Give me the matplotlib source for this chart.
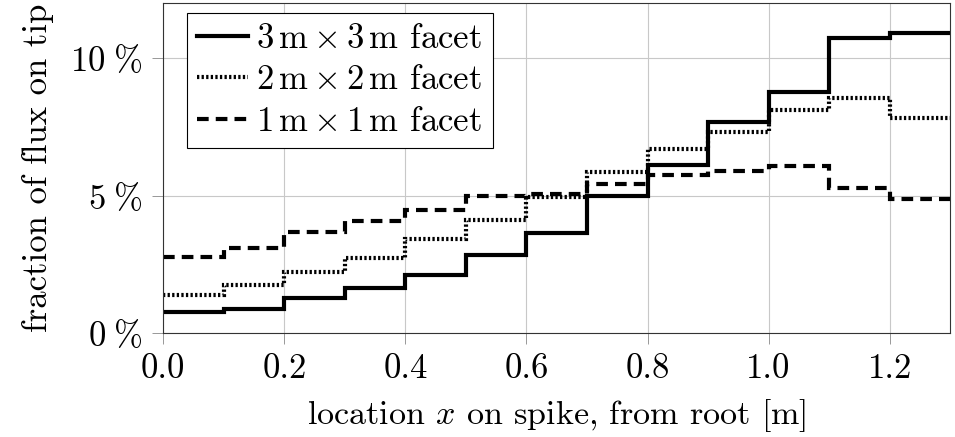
import numpy as np
from matplotlib import pyplot as plt

# bin edges along the spike [m]
edges = np.round(np.arange(0, 1.31, 0.1), 2)

# fraction of flux on tip per bin [%]
facet_3m = [0.75, 0.89, 1.28, 1.64, 2.10, 2.83, 3.62, 5.00, 6.11, 7.68, 8.77, 10.74, 10.91]
facet_2m = [1.40, 1.76, 2.22, 2.71, 3.41, 4.11, 4.94, 5.84, 6.71, 7.32, 8.10, 8.53, 7.81]
facet_1m = [2.77, 3.10, 3.67, 4.07, 4.48, 5.00, 5.05, 5.42, 5.76, 5.88, 6.06, 5.26, 4.88]

labels = [r'$3\,\mathrm{m}\times 3\,\mathrm{m}$ facet',
          r'$2\,\mathrm{m}\times 2\,\mathrm{m}$ facet',
          r'$1\,\mathrm{m}\times 1\,\mathrm{m}$ facet']

xticks = [0.0, 0.2, 0.4, 0.6, 0.8, 1.0, 1.2]
yticks = [0, 5, 10]

plt.rcParams.update({
    'font.family': 'serif',
    'font.serif': ['cmr10', 'DejaVu Serif'],
    'mathtext.fontset': 'cm',
    'axes.formatter.use_mathtext': True,
    'font.size': 25,
})

fig = plt.figure(figsize=(9.55, 4.37), dpi=100)
ax = fig.add_axes([0.171, 0.238, 0.824, 0.755])

ax.stairs(facet_3m, edges, baseline=None, color='black', lw=3, label=labels[0])
ax.stairs(facet_2m, edges, baseline=None, color='black', lw=3, linestyle=(0, (0.55, 0.55)), label=labels[1])
ax.stairs(facet_1m, edges, baseline=None, color='black', lw=3, linestyle=(0, (2.8, 1.7)), label=labels[2])

ax.set_xlim(0, 1.3)
ax.set_ylim(0, 12)
ax.set_xticks(xticks)
ax.set_xticklabels([f'{t:.1f}' for t in xticks])
ax.set_yticks(yticks)
ax.set_yticklabels([rf'${t}\;\%$' for t in yticks])
ax.grid(True, color='#c8c8c8', lw=0.8)
ax.set_axisbelow(True)
ax.tick_params(direction='out', length=8, width=0.6, color='#888888', pad=7)
for s in ax.spines.values():
    s.set_linewidth(0.8)
    s.set_color('#333333')

ax.set_xlabel(r'location $x$ on spike, from root [m]', labelpad=8, fontsize=24.5)
ax.set_ylabel('fraction of flux on tip', labelpad=12)

leg = ax.legend(loc='upper left', bbox_to_anchor=(0.03, 0.97), borderaxespad=0,
                fancybox=False, edgecolor='black', framealpha=1, handlelength=1.45,
                handletextpad=0.25, borderpad=0.3, labelspacing=0.28, fontsize=25)
leg.get_frame().set_linewidth(0.8)

plt.savefig('out.png', dpi=100)
